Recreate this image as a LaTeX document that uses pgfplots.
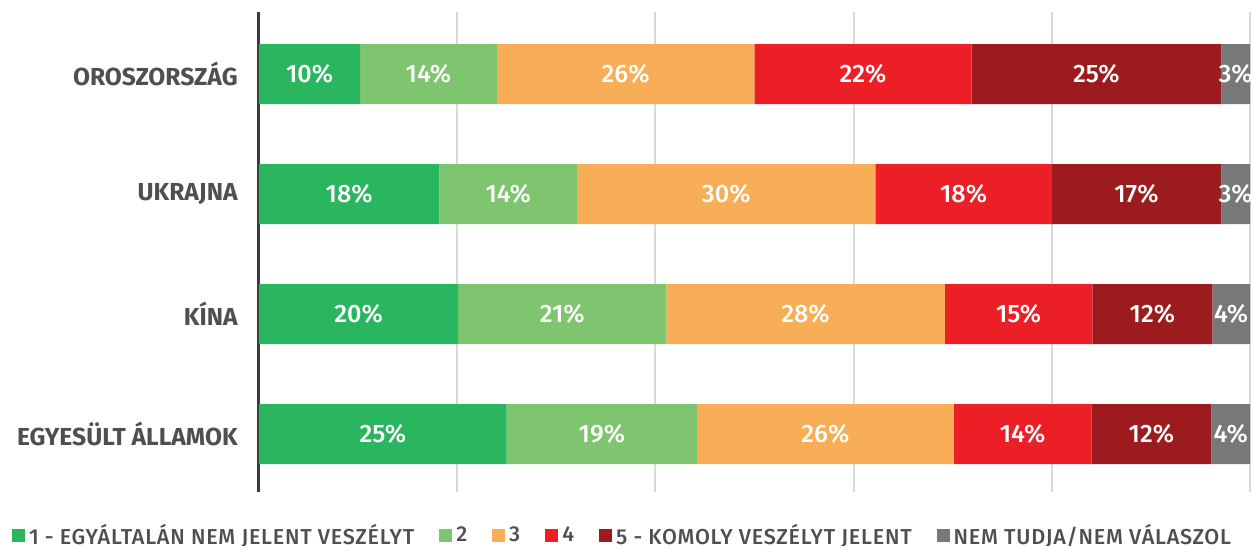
\documentclass[border=0pt]{standalone}
\usepackage{pgfplots}
\pgfplotsset{compat=1.18}
\usepackage{fontspec}
\setmainfont{Fira Sans}
\newfontfamily\medfont{Fira Sans Medium}
\newfontfamily\legfont{Fira Sans Medium}[LetterSpace=3.5]
\definecolor{cA}{HTML}{2AB55F}
\definecolor{cB}{HTML}{7FC46F}
\definecolor{cC}{HTML}{F8AE56}
\definecolor{cD}{HTML}{EC1F26}
\definecolor{cE}{HTML}{9B1B1F}
\definecolor{cF}{HTML}{76787A}
\definecolor{labelgray}{HTML}{4D4F52}
\definecolor{gridgray}{HTML}{D9D9D9}
\definecolor{axisgray}{HTML}{3A3B3E}
\pgfplotsset{
  common/.style={
    at={(0pt,0pt)}, anchor=south west,
    scale only axis, width=495.5pt, height=240pt,
    xmin=0, xmax=100, ymin=-0.517, ymax=3.483, y dir=reverse,
  },
}
\begin{document}
\begin{tikzpicture}
\useasboundingbox (-129.5pt,-27pt) rectangle (497pt,246pt);
\begin{axis}[
  common,
  xbar stacked, bar width=30pt,
  axis line style={draw=none},
  ytick={0,1,2,3},
  yticklabels={OROSZORSZÁG,UKRAJNA,KÍNA,EGYESÜLT ÁLLAMOK},
  yticklabel style={font=\bfseries\fontsize{12.3}{14}\selectfont, text=labelgray, inner sep=0pt, xshift=-10.5pt},
  xtick={20,40,60,80,100}, xticklabels={},
  xmajorgrids, grid style={gridgray, line width=1pt},
  extra x ticks={0}, extra x tick labels={},
  extra x tick style={grid style={axisgray, line width=1.5pt}},
  major tick length=0pt,
  legend columns=6,
  legend style={at={(axis description cs:-0.2492,-0.0906)}, anchor=west, draw=none, fill=none, inner sep=0pt, outer sep=0pt,
    font=\legfont\fontsize{10.8}{12}\selectfont, text=labelgray,
    /tikz/every even column/.append style={column sep=10.5pt}},
  legend image code/.code={\fill[#1] (0pt,-3.25pt) rectangle (6.5pt,3.25pt);},
]
\addplot[fill=cA, draw=none] coordinates {(10.2,0) (18.2,1) (20.1,2) (25.0,3)};
\addplot[fill=cB, draw=none] coordinates {(13.8,0) (13.9,1) (21.0,2) (19.2,3)};
\addplot[fill=cC, draw=none] coordinates {(26.0,0) (30.1,1) (28.1,2) (25.9,3)};
\addplot[fill=cD, draw=none] coordinates {(21.9,0) (17.8,1) (14.9,2) (13.9,3)};
\addplot[fill=cE, draw=none] coordinates {(25.2,0) (17.1,1) (12.1,2) (12.1,3)};
\addplot[fill=cF, draw=none] coordinates {(2.9,0) (2.9,1) (3.8,2) (3.9,3)};
\legend{1 - EGYÁLTALÁN NEM JELENT VESZÉLYT, 2, 3, 4, 5 - KOMOLY VESZÉLYT JELENT, NEM TUDJA/NEM VÁLASZOL}
\end{axis}
\begin{axis}[
  common,
  hide axis,
  point meta=explicit symbolic,
  nodes near coords,
  every node near coord/.append style={anchor=center, inner sep=0pt, text=white, font=\medfont\fontsize{12.6}{14}\selectfont},
]
\addplot[draw=none, mark=none] coordinates {
  (5.1,0)[10\%] (17.1,0)[14\%] (37.0,0)[26\%] (60.95,0)[22\%] (84.5,0)[25\%] (98.55,0)[3\%]
  (9.1,1)[18\%] (25.15,1)[14\%] (47.15,1)[30\%] (71.1,1)[18\%] (88.55,1)[17\%] (98.55,1)[3\%]
  (10.05,2)[20\%] (30.6,2)[21\%] (55.15,2)[28\%] (76.65,2)[15\%] (90.15,2)[12\%] (98.1,2)[4\%]
  (12.5,3)[25\%] (34.6,3)[19\%] (57.15,3)[26\%] (77.05,3)[14\%] (90.05,3)[12\%] (98.05,3)[4\%]
};
\end{axis}
\end{tikzpicture}
\end{document}
